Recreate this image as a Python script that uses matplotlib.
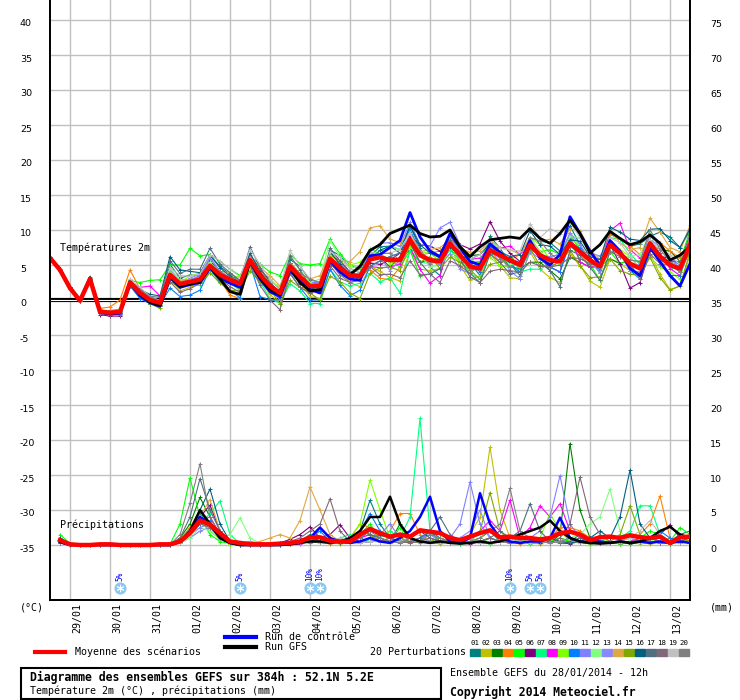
import matplotlib
matplotlib.use("Agg")
import matplotlib.pyplot as plt
import numpy as np
from matplotlib.lines import Line2D
from matplotlib.patches import Rectangle
from matplotlib.transforms import ScaledTranslation

plt.rcParams["axes.unicode_minus"] = False

# GEFS run of 28/01/2014 12h, one point every 6 h up to 384 h
hours = np.arange(0, 385, 6)
day_hours = np.arange(12, 373, 24)
day_labels = ["29/01", "30/01", "31/01", "01/02", "02/02", "03/02", "04/02", "05/02",
              "06/02", "07/02", "08/02", "09/02", "10/02", "11/02", "12/02", "13/02"]

temp_mean = [6.0, 4.3, 1.7, -0.1, 3.0, -1.7, -1.8, -1.7, 2.5, 1.0, 0.0, -0.4, 3.6, 2.3, 2.6,
             2.9, 4.9, 3.6, 2.9, 2.3, 5.7, 3.6, 2.0, 1.0, 4.8, 3.3, 2.0, 2.0, 5.9, 4.6,
             3.5, 3.4, 5.8, 6.1, 5.7, 5.7, 8.6, 6.4, 5.7, 5.5, 8.1, 6.4, 4.8, 4.5, 7.1,
             6.4, 5.7, 5.0, 7.9, 6.4, 5.7, 5.5, 8.1, 6.9, 5.7, 4.8, 7.9, 6.7, 5.2, 4.5,
             8.1, 6.2, 5.0, 4.5, 7.9]
temp_gfs = [6.0, 4.4, 1.8, -0.1, 3.2, -1.6, -1.9, -1.8, 2.6, 0.8, -0.3, -0.8, 3.4, 2.0, 2.3,
            2.6, 4.7, 3.0, 1.2, 0.8, 5.5, 3.2, 1.5, 0.8, 4.5, 2.5, 1.3, 1.5, 5.8, 4.5,
            3.6, 4.8, 7.1, 7.9, 9.5, 10.1, 10.7, 9.5, 9.0, 9.1, 10.0, 7.6, 6.2, 7.6, 8.6,
            8.8, 9.0, 8.8, 10.2, 8.8, 8.1, 9.5, 11.4, 9.5, 6.7, 7.9, 9.8, 8.8, 7.9, 8.3,
            9.3, 8.1, 5.7, 6.4, 7.6]
temp_ctrl = [6.1, 4.3, 1.7, 0.0, 3.0, -1.8, -2.0, -1.9, 2.4, 0.6, -0.4, -0.9, 3.2, 1.8, 2.2,
             2.5, 4.6, 3.2, 2.4, 1.8, 5.5, 3.0, 1.2, 0.5, 4.2, 2.8, 1.5, 1.0, 5.6, 4.0,
             3.0, 2.8, 6.3, 6.5, 7.5, 8.5, 12.5, 9.0, 7.0, 6.2, 9.5, 7.5, 5.5, 5.0, 8.0,
             6.8, 5.5, 5.2, 8.5, 6.0, 5.0, 6.5, 11.9, 9.5, 7.0, 5.0, 8.5, 7.0, 4.5, 3.5,
             7.5, 5.5, 3.5, 2.0, 5.2]

# perturbation members, given as departure from the ensemble mean (degC)
t01 = [0.1, 0.0, 0.1, 0.0, 0.2, 0.3, 0.1, -0.2, 0.3, 0.5, 0.4, 0.2, 1.5, 0.8, 1.0, 0.5, 1.5, 1.2, 0.8, 0.3, 0.5, -0.5, -1.0, -0.5, 1.0, 1.5, 0.8, 0.5, 1.2, 1.8, 1.0, 0.5, 0.5, 1.5, 2.0, 1.5, 2.0, 1.0, -1.0, -2.0, 0.5, 1.5, 0.5, -1.0, 2.0, 1.0, -0.5, -1.5, 1.0, 2.0, 2.5, 1.5, 2.5, 1.0, -0.5, 0.5, 1.5, 2.0, 2.5, 3.5, 1.0, 3.5, 4.0, 3.0, 2.0]
t02 = [0.0, -0.1, 0.0, 0.1, -0.3, 0.2, 0.3, 0.2, -0.3, -0.5, -0.6, -0.3, -0.5, -1.0, -0.8, -0.5, 0.5, 0.3, -0.3, -0.8, -1.0, -0.8, -1.2, -1.5, -1.0, -0.8, -1.5, -1.8, -0.5, -0.5, -1.0, -1.5, -1.0, -2.0, -2.5, -3.0, -1.5, -2.0, -1.5, -1.0, -0.5, -1.5, -2.0, -1.0, -0.5, -1.5, -2.5, -2.0, -1.0, -2.0, -2.5, -3.0, -1.5, -2.0, -3.0, -3.0, -2.0, -1.5, -1.0, -0.5, -1.5, -2.5, -3.5, -2.5, -1.5]
t03 = [-0.1, 0.1, -0.1, 0.0, 0.1, 0.0, -0.2, 0.1, 0.2, -0.3, -0.5, -0.4, 0.3, 0.5, 0.2, 0.0, -0.5, -1.0, -0.5, 0.0, -0.5, 0.5, 1.0, 0.5, -0.5, -1.0, -0.5, 0.0, -0.8, -0.5, 0.5, 1.0, 0.5, 0.0, -1.0, 0.5, -1.5, -1.0, 0.0, 0.5, -1.0, -0.5, 1.5, 2.0, 1.0, 0.0, -1.0, -0.5, -2.5, -1.0, -1.5, -2.5, -2.0, -1.5, -1.0, 0.0, -2.0, -1.5, 0.5, 1.0, 0.0, 1.0, 2.0, 1.0, 0.5]
t04 = [0.1, 0.0, 0.2, 0.1, 0.3, 0.5, 0.8, 1.7, 1.8, 0.6, 0.3, 0.4, 0.6, 0.2, -0.3, -0.5, -0.2, -0.8, -2.2, -2.1, -0.5, -0.8, -0.5, 0.0, 0.5, 0.2, -0.3, 0.5, 0.8, 0.5, 0.0, 0.5, -1.5, -3.0, -2.8, -1.0, 0.5, 0.0, 1.0, 1.5, 0.5, -0.5, 0.5, 1.0, 0.0, -1.0, 0.0, 1.5, 1.0, 0.5, -0.5, 0.5, 1.5, 0.0, -1.0, 0.0, 1.5, 2.0, 2.5, 2.0, 1.0, 2.0, 2.0, 1.5, 1.0]
t05 = [0.0, 0.1, 0.0, -0.1, 0.2, 0.2, 0.3, 0.4, 0.3, 1.5, 2.8, 3.3, 1.4, 2.7, 4.8, 3.4, 1.6, 1.9, 1.5, 1.2, 0.5, 1.5, 2.0, 2.5, 1.7, 1.9, 3.0, 3.2, 2.8, 2.0, 1.5, 1.0, 1.5, 0.5, 0.0, -1.0, -1.5, -3.0, -2.0, -1.0, 0.0, -1.0, 0.5, 1.0, 1.5, 0.5, 0.0, -0.5, -1.0, 0.5, 1.5, 1.0, 0.0, -1.0, -0.5, -2.0, -1.0, -1.5, 0.5, 1.0, 0.5, -0.5, 0.0, 1.0, 2.0]
t06 = [0.0, 0.0, -0.1, 0.1, -0.2, -0.4, -0.5, -0.6, -0.5, -0.3, -0.2, 0.0, -0.5, -0.3, 0.2, 0.5, 0.8, 0.3, -0.3, -0.5, 0.5, 1.0, 0.5, 0.0, -0.5, -0.8, -1.0, -0.5, 0.5, 1.0, 0.5, 0.0, -0.5, -1.0, 0.0, 1.0, 0.5, 1.5, 2.0, 1.5, 0.5, 1.5, 2.5, 3.5, 4.1, 2.0, 1.0, 0.5, -0.5, 0.0, -1.0, -1.5, 0.5, 0.0, 0.5, -1.0, 0.0, -1.5, -3.5, -2.0, -1.0, 0.0, 1.0, 0.5, 1.4]
t07 = [0.0, 0.1, 0.0, 0.0, -0.1, 0.0, 0.1, -0.2, -0.5, -0.3, 0.0, 0.3, 0.5, -0.3, -0.5, -0.8, -1.0, -0.5, -0.3, -1.0, -1.5, -1.0, -1.8, -1.5, -2.5, -2.0, -2.5, -2.5, -1.5, -2.0, -1.5, -1.0, -2.0, -3.5, -2.5, -4.7, -1.5, -1.0, -0.5, 0.0, -1.0, -0.5, -1.0, -1.5, -0.5, 0.0, -0.5, -1.0, -3.5, -2.0, -0.5, 0.5, 1.0, 0.5, -0.5, 0.0, 1.0, 2.0, 1.5, 0.5, -0.5, 0.5, -0.5, 0.0, -1.0]
t08 = [0.0, 0.0, 0.1, -0.1, 0.0, 0.1, 0.0, -0.3, 0.2, 0.8, 2.0, 1.0, -0.5, -0.3, 0.0, 0.3, 0.5, 0.0, -0.5, -0.3, 0.5, 0.0, -0.5, -0.3, -0.5, 0.0, 0.5, 0.3, -0.5, -1.0, -0.5, 0.5, -1.0, -1.5, -1.0, -0.5, -1.0, -2.0, -3.3, -2.0, 0.0, 0.5, 1.0, 1.5, 0.5, 1.0, 2.0, 1.5, 0.0, -0.5, -1.0, 0.0, 1.0, -1.5, -1.0, 0.0, 2.0, 4.3, 2.0, 1.5, 0.0, 0.5, -0.5, -1.0, 0.0]
t09 = [0.1, 0.0, 0.0, 0.1, 0.1, 0.2, 0.0, 0.1, -0.2, -0.4, -0.3, -0.2, 0.5, 0.3, 0.8, 1.0, 0.5, 0.0, 0.5, 1.0, 0.8, 0.3, 0.5, 1.0, 0.5, 0.5, 0.0, -0.5, 0.5, 0.8, 1.5, 2.0, 1.0, 0.5, -0.5, 0.0, -1.0, 0.5, 1.0, 0.0, -1.5, -1.0, -0.5, 0.5, -1.0, -1.5, -1.0, 0.5, 1.0, 1.5, 0.0, -0.5, 0.5, 1.0, 0.0, -1.0, -0.5, 0.5, 1.0, 0.0, -2.0, -1.5, -1.0, -1.5, 0.5]
t10 = [-0.1, 0.0, 0.0, -0.1, -0.1, 0.0, -0.2, -0.3, -0.5, -0.8, -0.5, -0.3, -1.9, -1.8, -1.9, -1.5, -0.5, -1.0, -1.5, -2.0, -0.5, -3.1, -2.0, -1.0, -1.0, -1.5, -2.0, -2.0, -1.5, -2.5, -2.9, -2.0, -1.0, -0.5, 0.5, 1.0, 1.5, 0.5, 0.0, -0.5, 0.5, 1.0, 0.5, -0.5, 0.5, 0.0, -0.5, -1.0, 0.5, -0.5, -1.0, -1.5, 0.0, 0.5, 0.0, -0.5, 0.5, 0.0, -1.0, -1.5, -0.5, -1.0, -1.5, -1.0, 0.0]
t11 = [0.0, 0.1, 0.1, 0.0, 0.1, 0.0, 0.1, 0.2, 0.3, 0.2, 0.5, 0.3, 0.8, 0.5, 0.3, 0.5, 1.0, 0.5, 0.3, 0.0, 0.5, 0.0, -0.5, 0.5, 0.5, 0.0, 0.5, 0.5, 0.0, 0.5, 0.5, 0.0, 1.0, 2.0, 2.5, 2.0, 2.5, 1.5, 2.0, 4.8, 3.0, 1.5, 1.0, 0.5, 0.0, -0.5, 0.0, 0.5, 1.0, 0.0, 0.5, 1.0, 0.5, 0.0, 1.0, 1.5, 0.5, -0.5, 0.0, 0.5, 1.5, 2.0, 1.0, 0.5, -0.5]
t12 = [0.0, 0.0, 0.0, 0.1, 0.0, -0.1, 0.1, 0.3, 0.5, 0.3, 0.2, 0.0, 1.0, 0.5, 0.3, 0.0, 0.5, 0.3, 0.0, -0.3, 0.0, 0.5, 0.5, 1.0, 1.5, 1.0, 0.5, 1.0, 2.6, 1.5, 1.0, 0.5, 0.0, 1.0, 2.0, 1.5, 1.0, 0.0, -1.0, -0.5, -1.5, 0.0, 1.0, 0.5, 1.0, 0.5, -0.5, 0.0, 1.0, 0.5, 0.0, 0.5, 1.0, 2.0, 1.0, 0.5, 0.0, -0.5, 1.0, 2.0, 1.5, 0.0, 0.5, 1.0, 0.5]
t13 = [0.1, 0.0, -0.1, 0.0, -0.1, -0.2, -0.3, -0.1, 0.0, -0.2, -0.3, -0.5, -0.5, 0.0, 0.5, 0.8, 1.2, 0.5, 0.0, 0.5, 1.0, 0.0, -0.5, -1.0, -0.5, -0.5, 0.0, 0.5, 0.0, -0.5, 0.0, 0.5, 1.0, 0.0, -1.5, 0.0, 1.0, 0.5, 0.0, -0.5, -1.5, -2.0, -1.0, 0.5, 1.0, 0.0, -1.5, -2.0, -1.0, -0.5, 0.5, 1.0, 1.5, 1.0, 0.0, -1.0, 0.5, 0.0, -1.0, -0.5, 0.5, 1.5, 1.0, 0.0, -0.5]
t14 = [0.0, 0.1, 0.0, 0.0, 0.2, 0.3, 0.2, 0.0, 0.1, 0.2, 0.0, 0.3, 0.0, 0.5, 0.3, -0.2, 0.0, 0.5, 1.0, 0.5, 0.3, 1.0, 1.5, 1.0, 0.5, 0.5, 1.0, 1.5, 1.0, 1.0, 2.0, 3.5, 4.5, 4.5, 3.0, 2.5, 1.0, 0.5, 1.5, 2.0, 0.5, 1.0, 2.0, 2.5, 1.5, 1.0, 1.5, 1.5, 1.0, 2.0, 3.0, 2.5, 2.0, 3.0, 1.5, 1.0, 2.0, 1.5, 2.0, 3.0, 3.6, 3.5, 2.5, 2.4, 2.8]
t15 = [-0.1, 0.0, 0.0, 0.0, -0.2, -0.1, 0.0, 0.2, 0.0, -0.3, -0.5, -0.8, -1.0, -0.5, -0.3, -0.5, -1.0, -1.2, -1.5, -1.0, -1.5, -1.0, -0.5, -1.5, -2.0, -1.5, -1.0, -2.0, -2.5, -2.0, -2.5, -3.2, -2.0, -1.5, -1.0, -1.5, -0.5, -1.0, 0.5, -1.0, -2.0, -1.0, -0.5, -1.5, -2.0, -1.0, 0.5, 0.0, -0.5, -1.5, -1.0, 0.0, -1.0, -2.0, -2.5, -1.5, -2.0, -2.5, -1.5, -1.0, -2.0, -3.0, -3.6, -2.5, -1.0]
t16 = [0.0, -0.1, 0.1, 0.0, 0.1, 0.0, 0.1, 0.0, 0.2, 0.5, 0.8, 1.0, 2.6, 2.0, 1.5, 1.0, 1.5, 1.0, 0.5, 0.2, 1.0, 0.5, 0.0, -0.5, 0.5, 0.0, -0.5, 0.0, 1.0, 0.5, 0.0, -0.5, 0.0, 1.0, 2.0, 1.0, 2.0, 1.5, 1.0, 0.5, -0.5, 0.0, 1.0, 2.0, 1.0, 0.5, 0.5, 1.5, 2.0, 1.5, 2.0, 1.0, 0.5, 1.5, 0.5, 1.0, 2.5, 3.0, 3.5, 4.0, 2.0, 4.0, 3.5, 3.0, 2.3]
t17 = [0.1, 0.0, 0.0, -0.1, 0.0, 0.0, 0.2, -0.1, 0.0, 0.2, 0.5, 0.8, 2.0, 1.5, 1.8, 1.5, 2.5, 1.5, 1.0, 0.5, 1.9, 1.0, 0.5, 0.0, 1.5, 1.0, 0.0, -0.5, 1.5, 1.0, 0.5, 0.0, -1.0, -0.5, 0.5, 1.0, -0.5, -1.0, -2.0, -1.0, 0.5, -0.5, -1.5, -2.0, -0.5, -1.0, -2.0, -1.0, -0.5, 0.0, -1.5, -3.6, -1.0, -0.5, -1.0, -2.0, -1.0, 0.0, -0.5, -1.0, -0.5, 0.0, 0.5, 1.0, 0.0]
t18 = [0.0, 0.0, 0.1, 0.0, -0.1, -0.2, -0.3, -0.4, -0.2, 0.0, 0.3, 0.0, -1.0, -1.2, -1.0, -0.5, 0.0, -0.5, -1.0, -1.2, -0.5, -1.5, -2.0, -2.4, -1.0, -1.5, -1.0, -0.5, -1.0, -1.5, -1.0, -0.5, -1.0, -2.5, -2.0, -2.5, -3.0, -2.8, -2.0, -3.0, -2.5, -1.5, -1.0, -2.0, -3.0, -2.0, -1.5, -1.0, -2.5, -1.5, -1.0, -0.5, -2.0, -1.0, -0.5, 0.0, -1.0, -0.5, 0.0, -1.5, -1.5, -1.0, 0.0, -0.5, -1.0]
t19 = [0.0, 0.0, 0.0, 0.1, 0.2, 0.2, 0.3, 0.1, 0.5, 0.8, 0.5, 0.3, 1.0, 1.2, 0.8, 0.8, 1.5, 2.0, 1.5, 1.0, 1.5, 1.5, 1.0, 0.5, 2.3, 1.5, 1.0, 0.5, 1.0, 1.5, 1.0, 1.5, 1.0, 0.5, 1.0, 1.5, 1.0, 0.0, -0.5, 0.5, 0.0, -0.5, 1.0, 2.0, 1.5, 1.0, 1.5, 2.0, 3.0, 2.5, 4.5, 4.0, 3.0, 2.0, 1.0, 0.5, 1.0, 1.5, 1.0, 0.0, 0.5, 1.0, 1.5, 0.5, 1.0]
t20 = [0.1, 0.0, -0.1, 0.0, 0.0, -0.1, 0.0, -0.1, 0.1, 0.4, 0.5, 0.2, 0.0, -0.3, -0.5, -0.3, 0.0, 0.5, 0.3, 0.5, 0.0, -0.5, -0.5, 0.0, 0.5, 0.5, 1.0, 0.5, -0.5, -1.0, -1.0, -0.5, 0.0, 0.5, 1.0, 0.0, -0.5, 0.5, -0.5, 0.5, 1.0, 0.5, -0.5, 0.0, 1.0, -0.5, -1.0, 0.5, 1.0, 2.0, 1.0, 0.0, -0.5, 0.0, 1.0, 0.0, -1.0, 0.0, 0.5, 1.0, 2.0, 1.0, 0.5, -0.5, 1.5]

# precipitation (mm / 6 h), from +6 h to +384 h
rain_mean = [0.7, 0.1, 0.0, 0.0, 0.1, 0.1, 0.0, 0.0, 0.0, 0.0, 0.1, 0.1, 0.5, 1.7, 3.5, 2.9,
             1.7, 0.5, 0.3, 0.1, 0.1, 0.1, 0.2, 0.3, 0.5, 1.1, 1.1, 0.6, 0.5, 0.5, 1.5, 2.3,
             1.7, 1.2, 1.5, 1.2, 2.1, 1.9, 1.7, 1.0, 0.7, 1.2, 1.7, 2.1, 1.1, 1.2, 1.0, 1.0,
             0.8, 1.0, 1.7, 1.9, 1.5, 0.7, 1.1, 1.2, 1.0, 1.4, 1.1, 1.0, 1.2, 0.3, 1.1, 1.2]
rain_gfs = [0.5, 0, 0, 0, 0, 0, 0, 0, 0, 0, 0, 0, 0.5, 2.0, 5.0, 3.0,
            1.0, 0.3, 0, 0, 0, 0, 0, 0.1, 0.3, 0.5, 0.5, 0.3, 0.5, 1.0, 2.0, 4.0,
            4.0, 6.9, 3.0, 1.0, 0.5, 0.3, 0.5, 0.3, 0.2, 0.3, 0.5, 0.3, 0.5, 1.0, 1.5, 2.0,
            2.5, 3.5, 2.0, 1.0, 0.5, 0.3, 0.2, 0.3, 0.5, 0.3, 0.5, 1.0, 2.0, 2.6, 1.5, 1.0]
rain_ctrl = [0.4, 0, 0, 0, 0, 0, 0, 0, 0, 0, 0, 0, 0.5, 2.0, 4.0, 3.0,
             1.0, 0.3, 0, 0, 0, 0, 0, 0.1, 0.3, 1.0, 2.5, 1.0, 0.5, 0.3, 0.5, 1.0,
             0.5, 0.3, 1.0, 2.0, 4.0, 6.9, 2.0, 0.5, 0.3, 1.0, 7.4, 3.0, 1.0, 0.5, 0.3, 0.5,
             0.5, 1.0, 3.9, 1.0, 0.5, 0.3, 0.5, 0.3, 0.5, 0.3, 0.5, 0.3, 0.5, 0.3, 0.5, 0.3]
r01 = [0.8, 0.1, 0, 0, 0, 0, 0, 0, 0, 0, 0, 0, 0.5, 2.0, 4.5, 3.0, 1.5, 0.3, 0.1, 0, 0, 0, 0.1, 0.3, 0.5, 1.5, 1.0, 0.5, 0.3, 0.5, 2.0, 6.4, 3.0, 1.0, 0.5, 1.0, 0.5, 2.0, 1.0, 0.5, 0.2, 0.5, 1.0, 2.0, 0.5, 0.3, 0.5, 1.0, 0.5, 0.3, 1.0, 0.5, 1.5, 0.5, 0.3, 0.5, 0.2, 0.5, 1.0, 0.5, 0.3, 0.5, 1.5, 2.0]
r02 = [0.5, 0.1, 0, 0, 0, 0, 0, 0, 0, 0, 0, 0.2, 0.8, 2.5, 3.5, 2.0, 0.8, 0.2, 0, 0, 0, 0, 0, 0.2, 0.3, 0.8, 0.5, 0.3, 0.2, 0.3, 1.0, 1.5, 0.5, 0.3, 0.5, 1.0, 0.5, 0.3, 0.2, 0.5, 0.3, 1.5, 4.0, 14.0, 5.0, 1.0, 0.5, 0.3, 0.2, 0.5, 1.0, 0.5, 0.3, 0.2, 0.5, 0.3, 0.2, 0.5, 0.3, 0.2, 0.5, 1.0, 0.5, 0.3]
r03 = [0.6, 0.1, 0, 0, 0, 0, 0, 0, 0, 0, 0, 0, 1.0, 3.0, 6.8, 4.0, 1.5, 0.3, 0, 0, 0, 0, 0, 0.2, 0.5, 1.0, 0.5, 0.3, 0.5, 1.0, 2.0, 1.5, 1.0, 0.5, 3.0, 1.0, 0.5, 0.3, 0.5, 1.0, 0.5, 0.3, 0.5, 1.0, 0.5, 0.3, 0.5, 1.0, 0.5, 0.3, 1.5, 14.5, 5.0, 1.0, 0.5, 0.3, 0.5, 0.2, 0.3, 0.5, 0.3, 0.2, 0.5, 0.3]
r04 = [0.5, 0, 0, 0, 0, 0, 0, 0, 0, 0, 0, 0, 0.5, 2.5, 5.0, 2.5, 1.0, 0.2, 0, 0, 0, 0, 0, 0.1, 0.3, 0.5, 0.3, 0.2, 0.5, 1.0, 3.0, 2.5, 1.0, 2.0, 4.5, 4.5, 1.5, 0.5, 0.3, 0.5, 0.3, 0.5, 0.3, 0.2, 0.5, 0.3, 0.2, 0.5, 0.5, 1.0, 2.5, 2.5, 2.0, 1.0, 0.5, 0.3, 0.5, 1.0, 1.5, 3.0, 7.0, 1.0, 0.5, 1.0]
r05 = [1.5, 0.2, 0, 0, 0, 0, 0, 0, 0, 0, 0, 0.1, 3.0, 9.6, 4.0, 1.5, 0.5, 0.2, 0, 0, 0, 0, 0.1, 0.5, 0.3, 0.5, 1.0, 0.5, 0.3, 0.5, 1.5, 3.0, 1.0, 0.5, 2.5, 1.0, 0.5, 0.3, 0.5, 0.3, 0.2, 0.5, 0.3, 1.0, 0.5, 0.3, 0.5, 0.2, 0.3, 0.5, 1.0, 0.5, 0.3, 0.2, 0.5, 0.3, 0.2, 0.5, 1.0, 2.0, 1.5, 0.5, 2.5, 1.5]
r06 = [0.4, 0, 0, 0, 0, 0, 0, 0, 0, 0, 0, 0, 0.5, 2.0, 4.0, 5.7, 2.0, 0.3, 0, 0, 0, 0.1, 0.3, 0.8, 1.5, 2.6, 1.0, 1.5, 2.9, 1.0, 0.5, 1.0, 1.5, 1.0, 0.5, 1.0, 0.5, 0.3, 0.5, 0.3, 0.5, 0.2, 0.5, 1.0, 0.5, 0.3, 0.5, 0.5, 0.3, 0.5, 0.3, 0.2, 0.5, 1.0, 0.5, 0.3, 0.5, 0.3, 0.5, 1.0, 1.5, 2.9, 1.0, 0.5]
r07 = [0.3, 0, 0, 0, 0, 0, 0, 0, 0, 0, 0, 0, 0.3, 1.5, 3.0, 4.5, 6.3, 1.5, 0.2, 0, 0, 0, 0.1, 0.2, 0.3, 0.5, 0.3, 0.5, 1.0, 1.5, 1.0, 0.5, 1.0, 2.0, 1.0, 4.0, 18.1, 2.0, 0.5, 0.3, 0.2, 0.5, 0.3, 0.2, 0.5, 1.0, 0.5, 0.3, 0.5, 0.3, 0.5, 1.0, 0.5, 0.3, 0.5, 1.0, 1.0, 2.0, 5.6, 5.6, 1.5, 0.5, 0.5, 1.0]
r08 = [0.3, 0, 0, 0, 0, 0, 0, 0, 0, 0, 0, 0, 0.5, 2.0, 3.5, 4.0, 1.5, 0.3, 0, 0, 0, 0, 0, 0.1, 0.2, 0.5, 1.0, 0.5, 0.3, 0.5, 1.0, 1.5, 0.5, 0.3, 0.5, 1.0, 0.5, 0.3, 0.5, 0.3, 0.5, 1.0, 2.0, 3.5, 2.0, 6.4, 1.0, 2.5, 5.6, 4.0, 5.9, 2.0, 1.0, 0.5, 0.3, 0.5, 0.3, 0.5, 1.0, 0.5, 0.3, 0.5, 0.3, 0.5]
r09 = [0.5, 0, 0, 0, 0, 0, 0, 0, 0, 0, 0, 0, 0.5, 1.5, 3.0, 2.5, 1.0, 0.2, 0, 0, 0, 0, 0.2, 0.3, 0.5, 0.8, 0.5, 0.3, 0.5, 1.0, 3.0, 9.3, 5.0, 1.0, 0.5, 0.3, 1.0, 0.5, 0.3, 0.5, 0.3, 0.5, 1.0, 2.0, 1.0, 0.5, 0.3, 0.5, 1.0, 4.5, 2.0, 0.5, 0.3, 0.5, 1.0, 0.5, 0.3, 0.5, 0.2, 0.3, 0.5, 0.3, 0.5, 0.3]
r10 = [0.3, 0, 0, 0, 0, 0, 0, 0, 0, 0, 0, 0, 0.3, 1.5, 3.0, 3.5, 1.0, 0.3, 0, 0, 0, 0, 0, 0.1, 0.3, 1.0, 2.0, 0.5, 0.3, 0.5, 2.0, 4.5, 2.0, 1.0, 0.5, 0.3, 1.0, 2.0, 0.5, 0.3, 0.5, 0.3, 0.5, 1.0, 0.5, 0.3, 0.5, 0.3, 0.5, 0.3, 0.5, 1.0, 0.5, 0.3, 0.5, 0.3, 0.5, 0.3, 0.5, 1.0, 2.0, 1.0, 0.5, 0.3]
r11 = [0.3, 0, 0, 0, 0, 0, 0, 0, 0, 0, 0, 0, 0.3, 1.0, 2.0, 2.5, 1.0, 0.5, 0.3, 0.5, 0.2, 0.1, 0.1, 0.2, 0.5, 0.3, 0.5, 0.3, 0.5, 0.3, 0.5, 1.0, 1.5, 3.0, 1.0, 0.5, 1.0, 1.5, 0.5, 1.0, 3.0, 9.0, 3.0, 1.0, 0.5, 0.3, 0.5, 1.0, 2.0, 4.0, 9.9, 3.0, 1.0, 0.5, 0.3, 0.5, 0.5, 1.0, 0.5, 0.3, 0.5, 0.3, 0.5, 0.3]
r12 = [0.4, 0, 0, 0, 0, 0, 0, 0, 0, 0, 0, 0, 0.3, 1.0, 2.5, 2.0, 1.0, 1.5, 3.9, 1.0, 0.2, 0.1, 0.1, 0.2, 0.3, 0.5, 0.3, 0.5, 1.0, 0.5, 0.3, 0.5, 0.5, 1.0, 0.5, 0.3, 0.5, 1.0, 0.5, 0.3, 0.5, 0.3, 0.5, 1.0, 0.5, 0.3, 0.5, 1.0, 0.5, 0.3, 0.5, 1.0, 1.5, 3.0, 4.0, 8.0, 2.0, 0.5, 0.3, 0.5, 1.0, 0.5, 0.3, 0.5]
r13 = [0.3, 0, 0, 0, 0, 0, 0, 0, 0, 0, 0, 0, 0.5, 1.5, 2.5, 3.0, 1.5, 0.5, 0.3, 0.5, 0.2, 0.1, 0.2, 0.1, 0.3, 0.5, 1.0, 0.5, 0.3, 0.5, 0.3, 0.5, 1.0, 0.5, 0.3, 0.5, 1.0, 0.5, 0.3, 0.5, 1.0, 2.0, 5.0, 1.0, 0.5, 0.3, 0.5, 0.3, 0.5, 0.3, 0.5, 1.0, 0.5, 0.3, 0.5, 0.3, 0.5, 0.3, 0.5, 1.0, 0.5, 0.3, 0.5, 0.3]
r14 = [0.4, 0, 0, 0, 0, 0, 0, 0, 0, 0, 0, 0, 0.5, 2.0, 4.0, 6.5, 2.0, 0.5, 0.2, 0.3, 0.5, 1.0, 1.5, 1.0, 3.5, 8.3, 5.0, 1.5, 0.5, 0.3, 0.5, 1.0, 0.5, 1.0, 0.5, 0.3, 0.5, 1.0, 0.5, 0.3, 0.5, 0.3, 0.5, 1.0, 0.5, 0.3, 0.5, 0.3, 0.5, 1.0, 0.5, 0.3, 0.5, 0.3, 0.5, 0.3, 0.5, 0.3, 0.5, 1.0, 0.5, 0.3, 1.0, 0.5]
r15 = [0.5, 0, 0, 0, 0, 0, 0, 0, 0, 0, 0, 0, 0.5, 2.0, 3.5, 3.0, 1.0, 0.3, 0, 0, 0, 0, 0, 0.2, 0.5, 1.0, 0.5, 0.3, 0.5, 1.0, 2.0, 1.5, 0.5, 0.3, 1.0, 0.5, 0.3, 0.5, 1.0, 0.5, 0.3, 0.5, 2.0, 7.5, 2.0, 0.5, 0.3, 0.5, 1.0, 0.5, 0.3, 0.5, 1.0, 0.5, 0.3, 0.5, 1.5, 5.6, 1.5, 0.5, 0.3, 0.5, 1.0, 0.5]
r16 = [1.0, 0.1, 0, 0, 0, 0, 0, 0, 0, 0, 0, 0, 0.5, 2.0, 5.0, 8.0, 3.0, 0.5, 0, 0, 0, 0, 0, 0.1, 0.3, 0.5, 1.0, 0.5, 0.3, 0.5, 1.0, 2.0, 1.5, 1.0, 0.5, 1.0, 2.0, 1.0, 0.5, 0.3, 0.5, 1.0, 0.5, 0.3, 0.5, 1.0, 0.5, 0.3, 0.5, 1.0, 0.5, 0.3, 0.5, 1.0, 2.0, 1.0, 4.0, 10.7, 3.0, 1.0, 0.5, 0.3, 0.5, 0.3]
r17 = [0.6, 0, 0, 0, 0, 0, 0, 0, 0, 0, 0, 0, 1.0, 4.0, 9.5, 5.0, 2.0, 0.5, 0.2, 0, 0, 0, 0, 0.2, 0.5, 1.0, 0.5, 0.3, 0.5, 1.0, 2.0, 1.5, 1.0, 0.5, 0.3, 0.5, 1.0, 2.0, 4.0, 1.5, 0.5, 0.3, 0.5, 1.0, 2.0, 1.0, 2.0, 5.9, 2.0, 0.5, 0.3, 0.5, 1.0, 0.5, 0.3, 0.5, 0.5, 0.3, 0.5, 1.0, 0.5, 0.3, 0.5, 1.0]
r18 = [0.3, 0, 0, 0, 0, 0, 0, 0, 0, 0, 0, 0, 0.3, 1.5, 3.0, 2.5, 1.0, 0.3, 0, 0, 0, 0, 0.1, 0.5, 1.0, 2.0, 3.0, 6.6, 2.0, 0.5, 0.3, 0.5, 0.5, 1.0, 0.5, 0.3, 0.5, 1.0, 0.5, 0.3, 0.5, 0.3, 0.5, 1.0, 0.5, 0.3, 0.5, 0.3, 0.5, 0.3, 1.0, 3.0, 9.7, 4.0, 1.5, 0.5, 0.5, 0.3, 1.0, 0.5, 0.3, 0.5, 0.3, 0.5]
r19 = [0.4, 0, 0, 0, 0, 0, 0, 0, 0, 0, 0, 0, 0.3, 1.5, 3.5, 3.0, 1.0, 0.3, 0.1, 0, 0, 0, 0, 0.1, 0.3, 0.5, 0.3, 0.5, 1.0, 0.5, 0.3, 0.5, 0.5, 0.3, 0.5, 1.0, 0.5, 0.3, 0.5, 0.3, 0.5, 1.0, 0.5, 0.3, 0.5, 1.0, 0.5, 0.3, 0.5, 0.3, 0.5, 1.0, 0.5, 0.3, 0.5, 0.3, 0.5, 1.0, 2.0, 3.5, 1.5, 0.5, 0.3, 0.5]
r20 = [0.5, 0, 0, 0, 0, 0, 0, 0, 0, 0, 0, 0, 1.5, 6.0, 11.6, 4.0, 1.5, 0.3, 0, 0, 0, 0, 0, 0.2, 0.5, 0.3, 0.5, 1.0, 0.5, 0.3, 1.0, 2.0, 1.0, 0.5, 0.3, 1.0, 0.5, 1.5, 1.0, 0.5, 0.3, 0.5, 1.0, 2.0, 3.0, 8.1, 2.0, 1.0, 0.5, 0.3, 0.5, 1.0, 0.5, 0.3, 0.5, 0.3, 0.5, 0.3, 0.5, 1.0, 0.5, 0.3, 0.5, 0.3]

pert_temp = [t01, t02, t03, t04, t05, t06, t07, t08, t09, t10,
             t11, t12, t13, t14, t15, t16, t17, t18, t19, t20]
pert_rain = [r01, r02, r03, r04, r05, r06, r07, r08, r09, r10,
             r11, r12, r13, r14, r15, r16, r17, r18, r19, r20]
pert_colors = ["#008080", "#c0c000", "#008000", "#ff8000", "#00ff00", "#800080", "#00ff80",
               "#ff00ff", "#80ff00", "#0080ff", "#8080ff", "#80ff80", "#8888ff", "#e0a840",
               "#80a800", "#006080", "#507080", "#806878", "#c0c0c0", "#808080"]

snow_hours = [42, 114, 156, 162, 276, 288, 294]
snow_pct = ["5%", "5%", "10%", "10%", "10%", "5%", "5%"]

mono = "DejaVu Sans Mono"
W, H = 740, 700

fig = plt.figure(figsize=(7.4, 7.0), dpi=100)
ax = fig.add_axes([50 / W, 100 / H, 640 / W, 600 / H])
ax.set_xlim(0, 384)
ax.set_ylim(-300 / 7, 300 / 7)
axr = ax.twinx()
axr.set_ylim(-300 / 7 + 35, 300 / 7 + 35)

for v in range(-35, 41, 5):
    ax.axhline(v, color="#c0c0c0", lw=1.0, zorder=0)
for h in day_hours:
    ax.axvline(h, color="#c0c0c0", lw=1.0, zorder=0)
ax.axhline(0, color="black", lw=3.0, zorder=1)
ax.axhline(0, color="white", lw=0.8, zorder=1)

mean = np.array(temp_mean)
for dev, col in zip(pert_temp, pert_colors):
    ax.plot(hours, mean + np.array(dev), color=col, lw=0.8, marker="+", ms=3, mew=0.7, zorder=2)
ax.plot(hours, temp_ctrl, color="#0000ff", lw=2.0, zorder=3)
ax.plot(hours, temp_gfs, color="black", lw=2.0, zorder=3)
ax.plot(hours, temp_mean, color="#ff0000", lw=3.2, zorder=4)

for rain, col in zip(pert_rain, pert_colors):
    axr.plot(hours[1:], rain, color=col, lw=0.8, marker="+", ms=3, mew=0.7, zorder=2)
axr.plot(hours[1:], rain_ctrl, color="#0000ff", lw=1.8, zorder=3)
axr.plot(hours[1:], rain_gfs, color="black", lw=1.8, zorder=3)
axr.plot(hours[1:], rain_mean, color="#ff0000", lw=3.2, zorder=4)

# snow probability icons
ax.scatter(snow_hours, [-41.1] * len(snow_hours), s=60, color="#8cc8f0", zorder=5)
ax.scatter(snow_hours, [-41.1] * len(snow_hours), s=22, marker=(6, 2, 0), color="white",
           linewidths=0.7, zorder=6)
for h, p in zip(snow_hours, snow_pct):
    ax.text(h, -40.1, p, rotation=90, ha="center", va="bottom", color="blue",
            fontsize=5.5, family=mono, zorder=6)

ax.text(6, 7.4, "Températures 2m", family=mono, fontsize=7.2, va="center", ha="left", zorder=6)
ax.text(6, -32.1, "Précipitations", family=mono, fontsize=7.2, va="center", ha="left", zorder=6)

# axes frame and ticks
for a in (ax, axr):
    a.spines["top"].set_visible(False)
    for s in ("left", "right", "bottom"):
        a.spines[s].set_color("black")
        a.spines[s].set_linewidth(1.3)
ax.set_xticks([])
ax.set_yticks(range(-35, 41, 5))
ax.tick_params(axis="y", length=0, pad=21.6, labelsize=6.8)
for lab in ax.get_yticklabels():
    lab.set_horizontalalignment("left")
axr.set_yticks(range(0, 76, 5))
axr.tick_params(axis="y", length=0, pad=14.4, labelsize=6.8)
shift = ScaledTranslation(0, -3 / 100, fig.dpi_scale_trans)
for lab in ax.get_yticklabels() + axr.get_yticklabels():
    lab.set_transform(lab.get_transform() + shift)

# date labels under the axis
for h, lab in zip(day_hours, day_labels):
    xp = 50 + h * 10 / 6 + 7
    fig.text(xp / W, 1 - 603 / H, lab, rotation=90, ha="center", va="top",
             family=mono, fontsize=7.2)
fig.text(20 / W, 1 - 608 / H, "(°C)", family=mono, fontsize=7.2, va="center")
fig.text(710 / W, 1 - 608 / H, "(mm)", family=mono, fontsize=7.2, va="center")

# legend
def fig_line(x0, x1, y, col):
    fig.add_artist(Line2D([x0 / W, x1 / W], [1 - y / H, 1 - y / H], color=col, lw=3,
                          transform=fig.transFigure))

fig_line(225, 256, 637, "#0000ff")
fig.text(265 / W, 1 - 637 / H, "Run de contrôle", family=mono, fontsize=7.2, va="center")
fig_line(225, 256, 647, "black")
fig.text(265 / W, 1 - 647 / H, "Run GFS", family=mono, fontsize=7.2, va="center")
fig_line(35, 65, 652, "#ff0000")
fig.text(75 / W, 1 - 652 / H, "Moyenne des scénarios", family=mono, fontsize=7.2, va="center")
fig.text(370 / W, 1 - 652 / H, "20 Perturbations", family=mono, fontsize=7.2, va="center")
for k, col in enumerate(pert_colors):
    x0 = 470 + 11 * k
    fig.add_artist(Rectangle((x0 / W, 1 - 656 / H), 10 / W, 7 / H, color=col,
                             transform=fig.transFigure))
    fig.text((x0 + 5) / W, 1 - 643 / H, "%02d" % (k + 1), family=mono, fontsize=5.3,
             ha="center", va="center")

fig.add_artist(Rectangle((20.5 / W, 1.5 / H), 420 / W, 31 / H, facecolor="none",
                         edgecolor="black", lw=1.5, transform=fig.transFigure))
fig.text(30 / W, 1 - 677 / H, "Diagramme des ensembles GEFS sur 384h : 52.1N 5.2E",
         family=mono, fontsize=8.3, weight="bold", va="center")
fig.text(30 / W, 1 - 691 / H, "Température 2m (°C) , précipitations (mm)",
         family=mono, fontsize=7.2, va="center")
fig.text(450 / W, 1 - 673 / H, "Ensemble GEFS du 28/01/2014 - 12h",
         family=mono, fontsize=7.2, va="center")
fig.text(450 / W, 1 - 692 / H, "Copyright 2014 Meteociel.fr",
         family=mono, fontsize=8.3, weight="bold", va="center")

fig.savefig("out.png", dpi=100)
